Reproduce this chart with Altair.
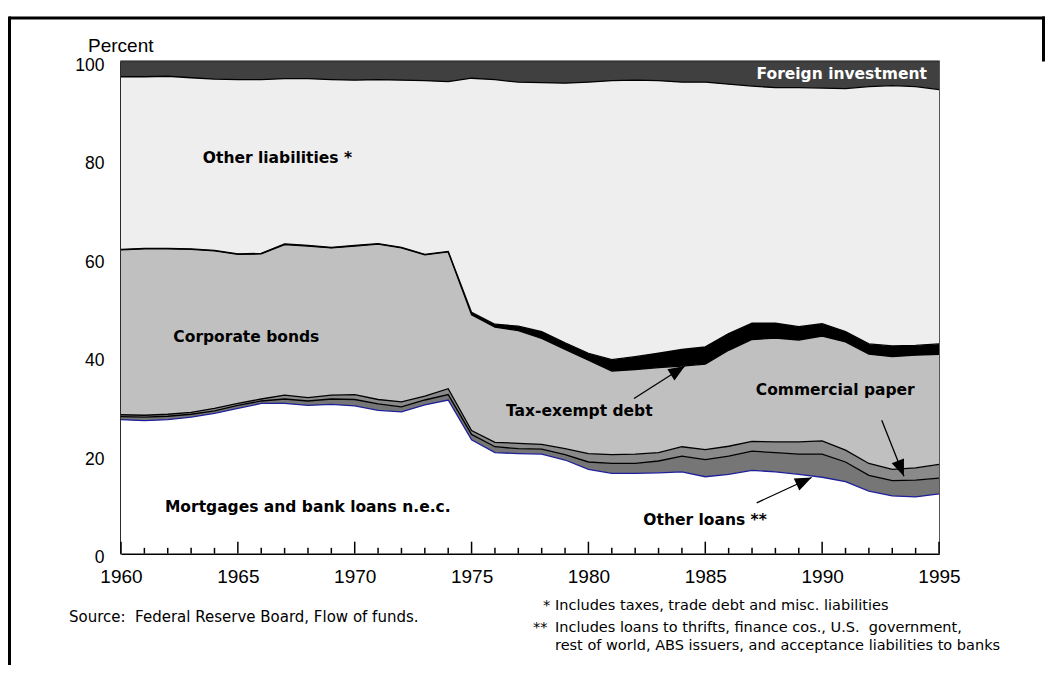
import altair as alt
import pandas as pd

years = list(range(1960, 1996))

mortgages = [27.2, 27.0, 27.2, 27.7, 28.5, 29.5, 30.5, 30.5, 30.1, 30.3, 30.0, 29.1, 28.8, 30.2, 31.2,
             23.1, 20.5, 20.3, 20.2, 19.0, 17.1, 16.3, 16.3, 16.4, 16.6, 15.6, 16.1, 16.9, 16.6, 16.1,
             15.5, 14.6, 12.7, 11.7, 11.5, 12.1]
other_loans = [0.6, 0.7, 0.7, 0.6, 0.5, 0.6, 0.5, 0.9, 0.9, 1.1, 1.3, 1.3, 1.0, 1.0, 1.1,
               1.1, 1.2, 1.0, 1.0, 1.1, 1.5, 2.0, 2.0, 2.4, 3.2, 3.5, 3.7, 3.9, 3.9, 4.1,
               4.7, 4.0, 3.2, 3.1, 3.4, 3.2]
commercial_paper = [0.4, 0.4, 0.4, 0.4, 0.5, 0.4, 0.4, 0.8, 0.7, 0.8, 1.0, 0.9, 1.0, 0.8, 1.2,
                    0.8, 0.9, 1.1, 1.0, 1.2, 1.7, 1.8, 1.9, 1.7, 1.9, 2.0, 2.0, 2.0, 2.2, 2.5,
                    2.7, 2.4, 2.4, 2.3, 2.5, 2.8]
corporate_bonds = [33.5, 33.8, 33.6, 33.1, 32.0, 30.3, 29.5, 30.6, 30.8, 29.9, 30.2, 31.6, 31.3, 28.7, 27.8,
                   23.5, 23.4, 22.9, 21.5, 20.2, 19.0, 17.0, 17.2, 17.3, 16.4, 17.4, 19.5, 20.7, 21.1, 20.7,
                   21.3, 22.0, 22.2, 22.9, 22.9, 22.4]
tax_exempt = [0.1, 0.1, 0.1, 0.1, 0.1, 0.1, 0.1, 0.1, 0.1, 0.1, 0.1, 0.1, 0.1, 0.1, 0.1,
              0.5, 0.6, 0.9, 1.4, 1.3, 1.4, 2.3, 2.6, 2.9, 3.4, 3.5, 3.4, 3.3, 3.0, 2.7,
              2.5, 2.1, 2.1, 2.2, 2.0, 2.1]
other_liabilities = [35.1, 34.9, 35.0, 34.8, 34.8, 35.4, 35.3, 33.6, 33.9, 34.1, 33.6, 33.3, 34.0, 35.3, 34.5,
                     47.6, 49.7, 49.6, 50.6, 52.8, 55.1, 56.7, 56.2, 55.4, 54.3, 53.8, 50.7, 48.2, 47.9, 48.6,
                     47.9, 49.4, 52.3, 52.9, 52.6, 51.7]
foreign_investment = [3.1, 3.1, 3.0, 3.3, 3.6, 3.7, 3.7, 3.5, 3.5, 3.7, 3.8, 3.7, 3.8, 3.9, 4.1,
                      3.4, 3.7, 4.2, 4.3, 4.4, 4.2, 3.9, 3.8, 3.9, 4.2, 4.2, 4.6, 5.0, 5.3, 5.3,
                      5.4, 5.5, 5.1, 4.9, 5.1, 5.7]

series_names = ["Mortgages and bank loans n.e.c.", "Other loans", "Commercial paper",
                "Corporate bonds", "Tax-exempt debt", "Other liabilities", "Foreign investment"]
series_values = [mortgages, other_loans, commercial_paper, corporate_bonds,
                 tax_exempt, other_liabilities, foreign_investment]
fill_colors = ["#ffffff", "#767676", "#8a8a8a", "#c0c0c0", "#000000", "#eeeeee", "#404040"]
line_colors = ["#1f1f9a", "#000000", "#000000", "#000000", "#000000", "#000000", "#333333"]

# in-chart labels (data coordinates)
label_text = ["Other liabilities *", "Corporate bonds", "Mortgages and bank loans n.e.c.",
              "Tax-exempt debt", "Commercial paper", "Other loans **"]
label_year = [1963.5, 1962.24, 1961.88, 1976.47, 1987.16, 1982.35]
label_pct = [79.4, 43.0, 8.34, 27.9, 32.3, 5.75]

foreign_label = ["Foreign investment"]
foreign_year = [1994.48]
foreign_pct = [96.44]

# arrows: tail -> tip
arrow_tail_year = [1981.95, 1992.55, 1987.2]
arrow_tail_pct = [31.5, 27.1, 10.3]
arrow_tip_year = [1984.13, 1993.5, 1989.55]
arrow_tip_pct = [38.1, 15.7, 15.45]
arrow_angle = [57.7, 158.3, 65.2]

major_ticks = list(range(1960, 1996, 5))
minor_ticks = [y for y in years if y % 5 != 0]

rows = []
for i, (name, vals) in enumerate(zip(series_names, series_values)):
    for yr, v in zip(years, vals):
        rows.append({"year": yr, "series": name, "share": v, "order": i})
df = pd.DataFrame(rows)

W, H = 818, 492
LABEL_FONT = "Liberation Sans"
BOLD_FONT = "DejaVu Sans"
NOTE_FONT = "DejaVu Sans"

xscale = alt.Scale(domain=[1960, 1995], nice=False, zero=False)
yscale = alt.Scale(domain=[0, 100], nice=False)

xaxis = alt.Axis(values=major_ticks, format="d", ticks=False, grid=False, title=None,
                 labelFont=LABEL_FONT, labelFontSize=19, labelColor="black", labelPadding=14,
                 domainColor="black", domainWidth=2, labelFlush=False)
yaxis = alt.Axis(values=[0, 20, 40, 60, 80, 100], ticks=False, grid=False, title=None,
                 labelFont=LABEL_FONT, labelFontSize=17.5, labelColor="black", labelPadding=17,
                 labelOffset=4, domainColor="black", domainWidth=2)

base = alt.Chart(df).transform_stack(
    stack="share", groupby=["year"], as_=["lo", "hi"],
    sort=[alt.SortField("order", order="ascending")]
)

areas = base.mark_area(interpolate="linear").encode(
    x=alt.X("year:Q", scale=xscale, axis=xaxis),
    y=alt.Y("hi:Q", scale=yscale, axis=yaxis),
    y2="lo:Q",
    fill=alt.Fill("series:N", scale=alt.Scale(domain=series_names, range=fill_colors), legend=None),
    detail="series:N",
)

lines = base.mark_line(strokeWidth=1.3, interpolate="linear").encode(
    x=alt.X("year:Q", scale=xscale),
    y=alt.Y("hi:Q", scale=yscale),
    stroke=alt.Stroke("series:N", scale=alt.Scale(domain=series_names, range=line_colors), legend=None),
    detail="series:N",
)

tick_df = pd.DataFrame({"year": major_ticks + minor_ticks,
                        "len": [2.4] * len(major_ticks) + [1.15] * len(minor_ticks),
                        "zero": [0.0] * (len(major_ticks) + len(minor_ticks))})
ticks = alt.Chart(tick_df).mark_rule(color="black", strokeWidth=1.5).encode(
    x=alt.X("year:Q", scale=xscale), y=alt.Y("zero:Q", scale=yscale), y2="len:Q")

lab_df = pd.DataFrame({"text": label_text, "year": label_year, "pct": label_pct})
labels = alt.Chart(lab_df).mark_text(
    font=BOLD_FONT, fontWeight="bold", fontSize=15.5, align="left", baseline="alphabetic", color="black"
).encode(x=alt.X("year:Q", scale=xscale), y=alt.Y("pct:Q", scale=yscale), text="text:N")

flab_df = pd.DataFrame({"text": foreign_label, "year": foreign_year, "pct": foreign_pct})
flabel = alt.Chart(flab_df).mark_text(
    font=BOLD_FONT, fontWeight="bold", fontSize=15.5, align="right", baseline="alphabetic", color="white"
).encode(x=alt.X("year:Q", scale=xscale), y=alt.Y("pct:Q", scale=yscale), text="text:N")

arr_df = pd.DataFrame({"x1": arrow_tail_year, "y1": arrow_tail_pct,
                       "x2": arrow_tip_year, "y2": arrow_tip_pct, "angle": arrow_angle})
arrow_lines = alt.Chart(arr_df).mark_rule(color="black", strokeWidth=1.3).encode(
    x=alt.X("x1:Q", scale=xscale), y=alt.Y("y1:Q", scale=yscale), x2="x2:Q", y2="y2:Q")
arrow_heads = alt.Chart(arr_df).mark_point(
    shape="M0,0L-0.4,1L0.4,1Z", filled=True, color="black", opacity=1, size=1100, strokeWidth=0
).encode(x=alt.X("x2:Q", scale=xscale), y=alt.Y("y2:Q", scale=yscale),
         angle=alt.Angle("angle:Q", scale=None))

one = pd.DataFrame({"a": [0]})
percent = alt.Chart(one).mark_text(text="Percent", font=LABEL_FONT, fontSize=19, align="left",
                                   baseline="alphabetic", color="black").encode(
    x=alt.value(-33), y=alt.value(-9.5))

foot_style = dict(font=NOTE_FONT, fontSize=14.5, align="left", baseline="alphabetic", color="black")
notes = [
    ("Source:\u00a0 Federal Reserve Board, Flow of funds.", -52, 560.5, 15),
    ("*", 422, 548.5, 14.5),
    ("Includes taxes, trade debt and misc. liabilities", 434, 548.5, 14.5),
    ("**", 412, 570.5, 14.5),
    ("Includes loans to thrifts, finance cos., U.S.\u00a0 government,", 434, 570.5, 14.5),
    ("rest of world, ABS issuers, and acceptance liabilities to banks", 434, 588.5, 14.5),
]
note_layers = []
for t, px, py, fs in notes:
    style = dict(foot_style)
    style["fontSize"] = fs
    note_layers.append(alt.Chart(one).mark_text(text=t, **style).encode(x=alt.value(px), y=alt.value(py)))

frame_top = alt.Chart(one).mark_rule(color="black", strokeWidth=3).encode(
    x=alt.value(-112), x2=alt.value(924), y=alt.value(-43.5))
frame_left = alt.Chart(one).mark_rule(color="black", strokeWidth=3).encode(
    x=alt.value(-111.5), y=alt.value(-45), y2=alt.value(604))
frame_right = alt.Chart(one).mark_rule(color="black", strokeWidth=3).encode(
    x=alt.value(922.5), y=alt.value(-45), y2=alt.value(0))

chart = alt.layer(
    areas, lines, ticks, arrow_lines, arrow_heads, labels, flabel, percent,
    *note_layers, frame_top, frame_left, frame_right
).properties(
    width=W, height=H,
    padding={"left": 113, "top": 53.5, "right": 108, "bottom": 111.5},
    autosize=alt.AutoSizeParams(type="none"),
    background="white",
).configure_view(stroke="#555555", strokeWidth=2)

chart.save("out.html", embed_options={"renderer": "svg", "actions": False})
